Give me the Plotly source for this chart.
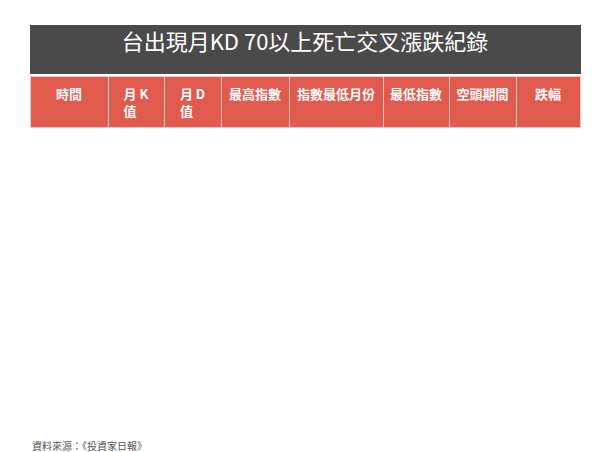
import plotly.graph_objects as go

title = "台出現月KD 70以上死亡交叉漲跌紀錄"
headers = ["時間", "月 K 值", "月 D 值", "最高指數", "指數最低月份", "最低指數", "空頭期間", "跌幅"]
periods = ["2000年4月", "2004年4月", "2006年6月", "2007年8月", "2007年11月", "2010年2月", "2011年3月",
           "2011年6月", "2013年8月", "2014年7月", "2015年6月", "2017年9月", "2017年11月"]
k_vals = ["72.73", "73.27", "71.56", "81.06", "74.51", "75.12", "80.22", "73.56", "71.91", "89.78", "72.77", "89.34", "86.37"]
d_vals = ["76.01", "81.4", "74.96", "85.4", "81.7", "80.67", "80.66", "79.19", "77.12", "90.37", "77.81", "91.07", "89.66"]
highs = ["10,328", "6,916", "6,967", "9,265", "9,785", "7,661", "8,829", "9,089", "8,162", "9,593", "9,692", "10,664", "10,882"]
low_months = ["2001 年 10 月", "2004 年 8 月", "2006 年 7 月", "2007 年 8 月", "2008 年 11 月", "2010 年 5 月",
              "2011 年 3 月", "2011 年 12 月", "2013 年 8 月", "2014 年 10 月", "2015 年 8 月", "2017 年 9 月", "2019年1月"]
lows = ["3,436", "5,255", "6,232", "7,987", "3,955", "7,032", "8,070", "6,609", "7,737", "8,501", "7,203", "10,257", "9319"]
bear = ["19 個月", "5 個月", "2 個月", "1 個月", "14 個月", "4 個月", "1 個月", "7 個月", "1 個月", "4 個月", "3 個月", "1 個月", "15個月"]
drops = ["-66.73%", "-24.02%", "-10.55%", "-13.79%", "-59.58%", "-8.21%", "-8.60%", "-27.29%", "-5.21%", "-11.38%",
         "-25.68%", "-3.82%", "-14%"]

n = len(periods)
W, H = 600, 452
x0, x1 = 22 / W, 572 / W

fills = ["#ffffff" if i % 2 == 0 else "#efece3" for i in range(n)]
black, red, pink, blue = "#111111", "#e0403a", "#f09a94", "#0000ff"


def big(v):
    return '<span style="font-size:17px"><b>%s</b></span>' % v


cols = [["<b>%s</b>" % p for p in periods], k_vals, d_vals, highs,
        low_months[:-1] + [big(low_months[-1])],
        lows[:-1] + [big(lows[-1])],
        bear[:-1] + [big(bear[-1])],
        drops[:-1] + [big(drops[-1])]]

last_colors = [red, pink, pink, pink, blue, blue, blue, blue]
font_colors = [[black if j == 0 else "#333333"] * (n - 1) + [c] for j, c in enumerate(last_colors)]

fig = go.Figure()

fig.add_trace(go.Table(
    domain=dict(x=[x0, x1], y=[1 - 67 / H, 1 - 17 / H]),
    columnwidth=[1],
    header=dict(values=[title], fill_color="#4b4a4a", line_color="#4b4a4a", height=49,
                font=dict(color="white", size=22, family="Noto Sans CJK TC"), align="center"),
))

fig.add_trace(go.Table(
    domain=dict(x=[x0, x1], y=[1 - 430 / H, 1 - 68 / H]),
    columnwidth=[78, 56, 57, 68, 94, 66, 67, 64],
    header=dict(values=["<b>%s</b>" % h for h in headers], fill_color="#e15a4e", line=dict(color="#f4c7c2", width=1),
                height=25, font=dict(color="white", size=13, family="Noto Sans CJK TC"), align="center"),
    cells=dict(values=cols, fill_color=[fills] * 8, line=dict(color="#333333", width=1), height=25.6,
               font=dict(color=font_colors, size=[12.5, 12.5, 12.5, 12.5, 12.5, 12.5, 12.5, 12.5],
                         family="Noto Sans CJK TC"), align="center"),
))

fig.add_annotation(text="資料來源：《投資家日報》", x=22 / W, y=1 - 437 / H, xref="paper", yref="paper",
                   xanchor="left", yanchor="middle", showarrow=False,
                   font=dict(size=10, color="#555555", family="Noto Sans CJK TC"))

fig.update_layout(width=W, height=H, margin=dict(l=0, r=0, t=0, b=0), paper_bgcolor="white")
fig.write_html("out.html")
